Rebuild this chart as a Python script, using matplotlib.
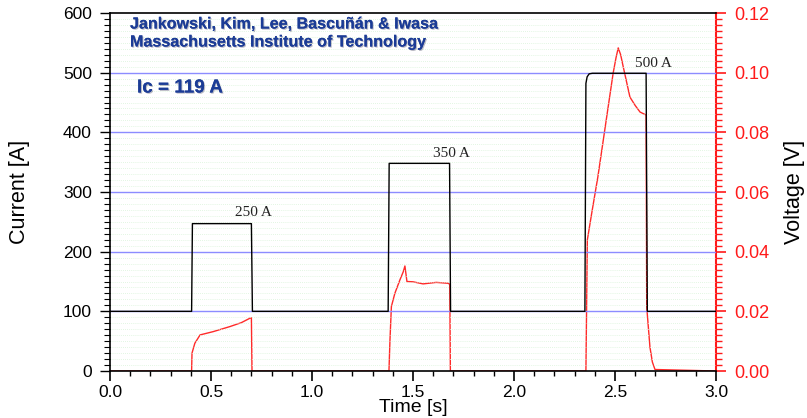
import numpy as np
import matplotlib
matplotlib.use("Agg")
import matplotlib.pyplot as plt
import matplotlib.patheffects as pe
from matplotlib.ticker import MultipleLocator

plt.rcParams['font.family'] = ['Liberation Sans', 'DejaVu Sans']

# Transport current (A) vs time (s)
current_t = [0.0, 0.404, 0.408, 0.700, 0.705, 1.377, 1.382, 1.681, 1.686,
             2.351, 2.356, 2.362, 2.372, 2.388, 2.654, 2.660, 3.0]
current_a = [100, 100, 247, 247, 100, 100, 348, 348, 100,
             100, 482, 493, 498, 499, 499, 100, 100]

# Voltage (V) vs time (s)
voltage_t = [0.0, 0.404, 0.406, 0.420, 0.446, 0.511, 0.594, 0.650, 0.693, 0.700, 0.703,
             1.381, 1.386, 1.393, 1.410, 1.435, 1.452, 1.460, 1.470, 1.500, 1.550, 1.615, 1.675, 1.682, 1.685,
             2.356, 2.360, 2.363, 2.385, 2.415, 2.442, 2.465, 2.491, 2.505, 2.516, 2.528,
             2.541, 2.574, 2.600, 2.624, 2.654, 2.657, 2.673, 2.685, 2.698, 3.0]
voltage_v = [0.0, 0.0, 0.0060, 0.0093, 0.0121, 0.0132, 0.0149, 0.0162, 0.0177, 0.0178, 0.0,
             0.0, 0.0104, 0.0216, 0.0260, 0.0305, 0.0333, 0.0352, 0.0300, 0.0299, 0.0292, 0.0297, 0.0294, 0.0290, 0.0,
             0.0, 0.0250, 0.0439, 0.0530, 0.0650, 0.0774, 0.0880, 0.0999, 0.1050, 0.1083, 0.1060,
             0.1019, 0.0918, 0.0890, 0.0868, 0.0858, 0.0215, 0.0080, 0.0030, 0.0005, 0.0]

# Step labels
step_labels = ["250 A", "350 A", "500 A"]
step_label_t = [0.62, 1.60, 2.60]
step_label_a = [265, 365, 516]

W, H = 807, 418
fig = plt.figure(figsize=(W / 100, H / 100), dpi=100)
ax = fig.add_axes([110 / W, 1 - 371 / H, (716 - 110) / W, (371 - 13) / H])
ax2 = ax.twinx()

# faint dotted background rows
for yv in np.arange(10, 600, 10):
    if yv % 100:
        ax.axhline(yv, color='#d9f3d9', lw=0.6, ls=(0, (1, 1.5)), zorder=0)
for yv in [100, 200, 300, 400, 500]:
    ax.axhline(yv, color='#8c8cff', lw=1.0, zorder=1)

ax.plot(current_t, current_a, color='black', lw=1.0, zorder=3)
ax2.plot(voltage_t, voltage_v, color='#ff2a2a', lw=1.0, zorder=3)

for lab, tx, ty in zip(step_labels, step_label_t, step_label_a):
    ax.text(tx, ty, lab, family='Liberation Serif', fontsize=11, color='#222222',
            ha='left', va='center', zorder=4)

ax.set_xlim(0, 3.0)
ax.set_ylim(0, 600)
ax2.set_ylim(0, 0.12)
ax.set_zorder(ax2.get_zorder() + 1)
ax.patch.set_visible(False)

ax.xaxis.set_major_locator(MultipleLocator(0.5))
ax.xaxis.set_minor_locator(MultipleLocator(0.1))
ax.yaxis.set_major_locator(MultipleLocator(100))
ax.yaxis.set_minor_locator(MultipleLocator(10))
ax2.yaxis.set_major_locator(MultipleLocator(0.02))
ax2.yaxis.set_minor_locator(MultipleLocator(0.002))

ax.xaxis.set_major_formatter(plt.FuncFormatter(lambda v, p: f"{v:.1f}"))
ax2.yaxis.set_major_formatter(plt.FuncFormatter(lambda v, p: f"{v:.2f}"))

ax.tick_params(axis='x', which='major', direction='out', length=7, width=1.2, labelsize=12.5, pad=3)
ax.tick_params(axis='x', which='minor', direction='out', length=3.5, width=1)
ax.tick_params(axis='y', which='major', direction='out', length=7, width=1, labelsize=12.5, pad=6)
ax.tick_params(axis='y', which='minor', direction='out', length=4, width=0.8)
ax2.tick_params(axis='y', which='major', direction='out', length=7, width=1.2, labelsize=13,
                colors='#ff1a1a', pad=6)
ax2.tick_params(axis='y', which='minor', direction='out', length=4.5, width=1, colors='#ff1a1a')

for sp in ax.spines.values():
    sp.set_linewidth(1.2)
ax.spines['right'].set_visible(False)
ax2.spines['right'].set_color('#ff1a1a')
ax2.spines['right'].set_linewidth(1.5)
for s in ['left', 'top', 'bottom']:
    ax2.spines[s].set_visible(False)

ax.set_xlabel("Time [s]", fontsize=14)
ax.set_ylabel("Current [A]", fontsize=15.5)
ax2.set_ylabel("Voltage [V]", fontsize=15.5)
ax.xaxis.set_label_coords(0.5, -0.079)
ax.yaxis.set_label_coords(-0.132, 0.5)
ax2.yaxis.set_label_coords(1.112, 0.5)

navy = '#1c3c96'
shadow = [pe.withSimplePatchShadow(offset=(0.8, -0.8), shadow_rgbFace='#202040', alpha=0.3), pe.Normal()]
fig.text(130 / W, 1 - 24 / H, "Jankowski, Kim, Lee, Bascuñán & Iwasa", color=navy,
         fontsize=11.6, fontweight='bold', ha='left', va='center', path_effects=shadow)
fig.text(130 / W, 1 - 42 / H, "Massachusetts Institute of Technology", color=navy,
         fontsize=11.6, fontweight='bold', ha='left', va='center', path_effects=shadow)
fig.text(137 / W, 1 - 88 / H, "Ic = 119 A", color=navy,
         fontsize=13.6, fontweight='bold', ha='left', va='center', path_effects=shadow)

fig.savefig("out.png", dpi=100)
